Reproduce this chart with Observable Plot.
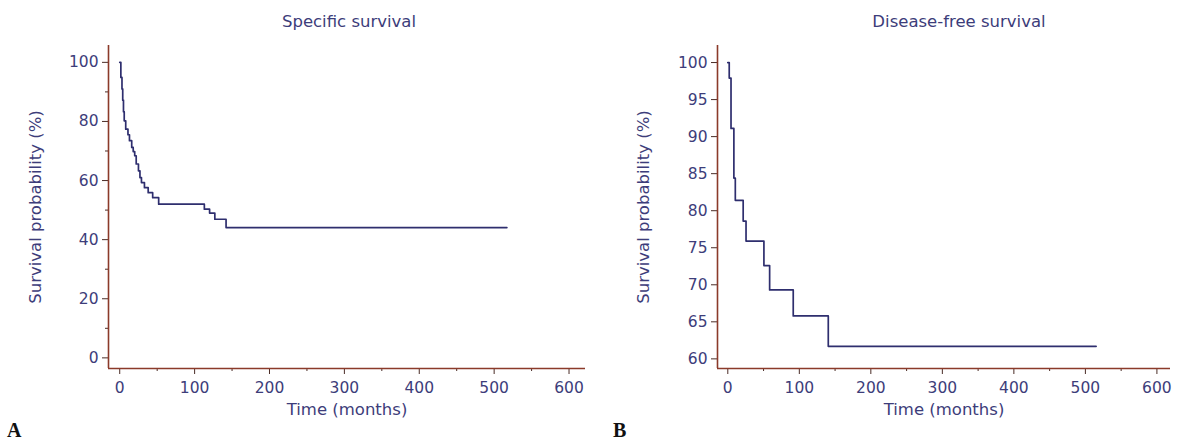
<!DOCTYPE html>
<html><head><meta charset="utf-8">
<script src="https://cdn.jsdelivr.net/npm/d3@7"></script>
<script src="https://cdn.jsdelivr.net/npm/@observablehq/plot@0.6"></script>
<style>
html,body{margin:0;padding:0;background:#fff}
body{width:1180px;height:443px;overflow:hidden;font-family:"DejaVu Sans",sans-serif}
#wrap{position:relative;width:1180px;height:443px}
.panel{position:absolute;top:0}
.title{position:absolute;top:12px;font-size:16.5px;line-height:20px;color:#3d3d7a;transform:translateX(-50%);white-space:nowrap}
.letter{position:absolute;top:419px;font-family:"Liberation Serif","DejaVu Serif",serif;font-weight:bold;font-size:20px;color:#111}
</style></head>
<body><div id="wrap"></div>
<script>
// Panel A: Specific survival (Kaplan-Meier, step-after)
const timeA = [0, 1.5, 3, 4, 5, 6, 8, 11, 13, 16, 18, 20, 22, 25, 27, 29, 33, 38, 44, 52, 113, 120, 127, 142, 517];
const survA = [100, 94.9, 91, 87.2, 83.3, 80.2, 77.4, 75.5, 73.5, 71.2, 69.8, 68.4, 65.6, 63.3, 61, 59.3, 57.6, 55.9, 54.2, 52, 50.3, 49, 46.9, 44.1, 44.1];
// Panel B: Disease-free survival
const timeB = [0, 2, 4.5, 8.5, 10.5, 21.5, 25.5, 50.5, 58.5, 91.5, 140.5, 515];
const survB = [100, 97.9, 91.1, 84.4, 81.4, 78.6, 75.9, 72.6, 69.3, 65.8, 61.7, 61.7];

const xTicks = [0, 100, 200, 300, 400, 500, 600];
const xMinor = [50, 150, 250, 350, 450, 550];
const yTicksA = [0, 20, 40, 60, 80, 100];
const yMinorA = [10, 30, 50, 70, 90];
const yTicksB = [60, 65, 70, 75, 80, 85, 90, 95, 100];

const titleA = "Specific survival";
const titleB = "Disease-free survival";
const xLabel = "Time (months)";
const yLabel = "Survival probability (%)";

const axisColor = "#8b3a2a";
const tickColor = "#4a2c26";
const textColor = "#3d3d7a";
const lineColor = "#2e2e6e";

function panel(o) {
  const data = o.times.map((t, i) => ({t, s: o.surv[i]}));
  const marks = [
    Plot.axisX({ticks: xMinor, tickSize: 3, tickFormat: () => "", label: null, stroke: tickColor}),
    Plot.axisX({ticks: xTicks, tickSize: 6, tickPadding: 7, label: null, stroke: tickColor, fill: textColor}),
    Plot.axisX({ticks: [], label: xLabel, labelAnchor: "center", labelArrow: "none", labelOffset: 46, fill: textColor, fontSize: 16.5}),
    Plot.axisY({ticks: o.yTicks, tickSize: 6, tickPadding: 4, label: null, stroke: tickColor, fill: textColor}),
    Plot.axisY({ticks: [], label: yLabel, labelAnchor: "center", labelArrow: "none", labelOffset: o.yLabelOffset, fill: textColor, fontSize: 16.5})
  ];
  if (o.yMinor) marks.push(Plot.axisY({ticks: o.yMinor, tickSize: 3, tickFormat: () => "", label: null, stroke: tickColor}));
  marks.push(
    Plot.ruleY([o.yDomain[0]], {stroke: axisColor, strokeWidth: 1.6}),
    Plot.ruleX([o.xDomain[0]], {stroke: axisColor, strokeWidth: 1.6}),
    Plot.line(data, {x: "t", y: "s", curve: "step-after", stroke: lineColor, strokeWidth: 1.7})
  );
  return Plot.plot({
    width: o.width, height: 443,
    marginLeft: o.marginLeft, marginRight: o.marginRight, marginTop: 45, marginBottom: 75,
    x: {domain: o.xDomain},
    y: {domain: o.yDomain},
    style: {fontFamily: "'DejaVu Sans', sans-serif", fontSize: "15.5px", color: textColor, background: "transparent", overflow: "visible"},
    marks
  });
}

const wrap = document.getElementById("wrap");
function place(el, left) { const d = document.createElement("div"); d.className = "panel"; d.style.left = left + "px"; d.appendChild(el); wrap.appendChild(d); }

place(panel({times: timeA, surv: survA, xDomain: [-15, 622], yDomain: [-3.6, 105.7], yTicks: yTicksA, yMinor: yMinorA, width: 600, marginLeft: 108, marginRight: 15, yLabelOffset: 79}), 0);
place(panel({times: timeB, surv: survB, xDomain: [-14.4, 619], yDomain: [58.7, 102.3], yTicks: yTicksB, yMinor: null, width: 580, marginLeft: 117, marginRight: 10, yLabelOffset: 80}), 600);

function addText(cls, txt, left) { const d = document.createElement("div"); d.className = cls; d.textContent = txt; d.style.left = left + "px"; wrap.appendChild(d); }
addText("title", titleA, 349);
addText("title", titleB, 959);
addText("letter", "A", 7);
addText("letter", "B", 613);
</script>
</body></html>
